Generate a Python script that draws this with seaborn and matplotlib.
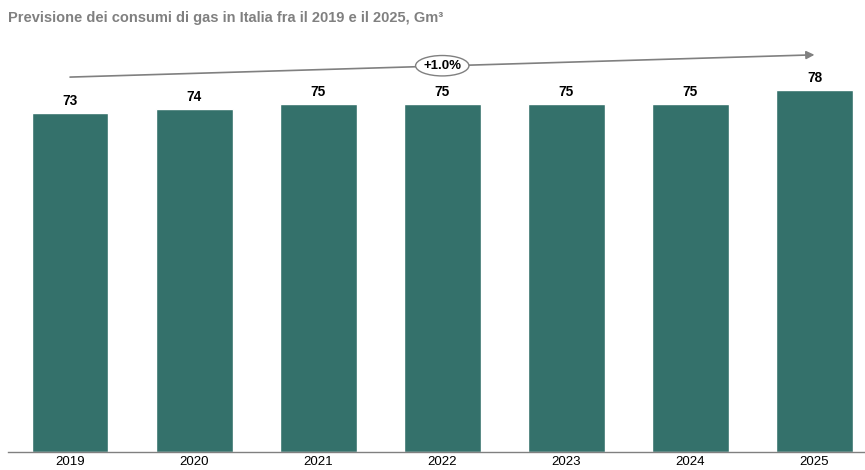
import pandas as pd
import matplotlib
matplotlib.use("Agg")
import matplotlib.pyplot as plt
from matplotlib.patches import Ellipse
import seaborn as sns

years = ["2019", "2020", "2021", "2022", "2023", "2024", "2025"]
consumi = [73, 74, 75, 75, 75, 75, 78]
cagr_label = "+1.0%"

df = pd.DataFrame({"anno": years, "consumi": consumi})

sns.set_style("white")
plt.rcParams["font.family"] = ["Liberation Sans", "DejaVu Sans"]

fig = plt.figure(figsize=(8.65, 4.70), dpi=100)
ax = fig.add_axes([8 / 865, (470 - 452) / 470, (865 - 8) / 865, (452 - 40) / 470])

sns.barplot(data=df, x="anno", y="consumi", color="#34716B", saturation=1,
            width=0.62, ax=ax)

ax.set_xlim(-0.5, (865 - 70.5) / 124)
ax.set_ylim(0, 412 / 4.64)

for i, v in enumerate(consumi):
    ax.text(i, v + 1.1, str(v), ha="center", va="bottom",
            fontsize=9.8, fontweight="bold", color="black")

# freccia di tendenza
ax.annotate("", xy=(6, 85.6), xytext=(0, 80.8),
            arrowprops=dict(arrowstyle="-|>", color="#808080", lw=1.2,
                            mutation_scale=12, shrinkA=0, shrinkB=0))
ell = Ellipse((3, 83.25), width=0.43, height=4.4, facecolor="white",
              edgecolor="#808080", lw=1.0, zorder=5)
ax.add_patch(ell)
ax.text(3, 83.25, cagr_label, ha="center", va="center", fontsize=9.5,
        fontweight="bold", color="black", zorder=6)

for s in ["top", "right", "left"]:
    ax.spines[s].set_visible(False)
ax.spines["bottom"].set_color("#808080")
ax.spines["bottom"].set_linewidth(1.0)
ax.set_yticks([])
ax.set_xlabel("")
ax.set_ylabel("")
ax.tick_params(axis="x", length=0, labelsize=9.5, colors="black", pad=3)

fig.text(8 / 865, 1 - 18 / 470, "Previsione dei consumi di gas in Italia fra il 2019 e il 2025, Gm³",
         ha="left", va="center", fontsize=10.5, fontweight="bold", color="#808080")

fig.savefig("out.png", dpi=100)
